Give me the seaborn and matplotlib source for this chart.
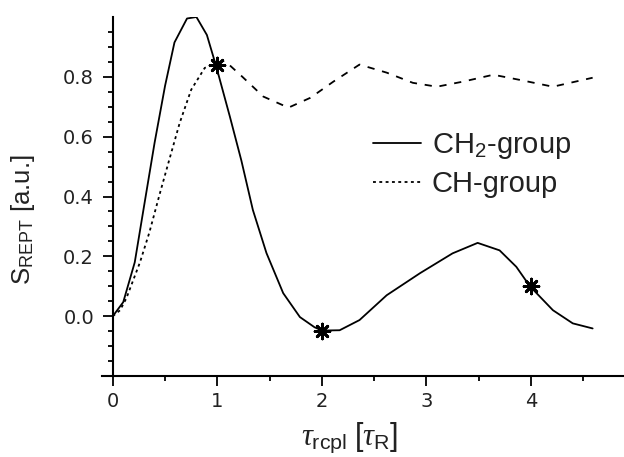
import matplotlib
matplotlib.use("Agg")
import matplotlib.pyplot as plt
import seaborn as sns
import pandas as pd
from matplotlib.ticker import FixedLocator

# ---- data ----
ch2_x = [0, 0.1, 0.21, 0.3, 0.4, 0.5, 0.59, 0.71, 0.80, 0.90, 0.99, 1.12, 1.23, 1.34, 1.47,
         1.63, 1.79, 1.93, 2.0, 2.17, 2.36, 2.62, 2.94, 3.25, 3.49, 3.70, 3.86, 3.99, 4.21,
         4.40, 4.59]
ch2_y = [0, 0.047, 0.18, 0.37, 0.58, 0.77, 0.915, 0.995, 1.0, 0.94, 0.834, 0.667, 0.52, 0.355,
         0.211, 0.077, -0.003, -0.037, -0.048, -0.047, -0.013, 0.07, 0.144, 0.21, 0.245, 0.22,
         0.165, 0.10, 0.02, -0.024, -0.041]

ch_x = [0, 0.07, 0.13, 0.26, 0.35, 0.45, 0.53, 0.64, 0.75, 0.88, 1.0, 1.07, 1.24, 1.44, 1.68,
        1.89, 2.11, 2.36, 2.62, 2.87, 3.10, 3.35, 3.64, 3.89, 4.21, 4.59]
ch_y = [0, 0.02, 0.06, 0.18, 0.28, 0.41, 0.51, 0.646, 0.757, 0.83, 0.845, 0.854, 0.80, 0.734,
        0.697, 0.73, 0.784, 0.841, 0.814, 0.78, 0.767, 0.784, 0.807, 0.79, 0.767, 0.797]

star_x = [1, 2, 4]
star_y = [0.84, -0.048, 0.10]

x_ticks = [0, 1, 2, 3, 4]
y_ticks = [0.0, 0.2, 0.4, 0.6, 0.8]
y_ticklabels = ["0.0", "0.2", "0.4", "0.6", "0.8"]

labels = ["CH$_2$-group", "CH-group"]

# ---- style ----
sns.set_theme(style="ticks")
plt.rcParams["font.family"] = ["Liberation Sans", "DejaVu Sans"]
plt.rcParams["mathtext.fontset"] = "custom"
plt.rcParams["mathtext.rm"] = "Liberation Sans"
plt.rcParams["mathtext.it"] = "Liberation Serif:italic"
plt.rcParams["mathtext.bf"] = "Liberation Sans:bold"

fig = plt.figure(figsize=(6.24, 4.57), dpi=100)
ax = fig.add_axes([0.164, 0.1772, 0.836, 0.7856])

df_ch2 = pd.DataFrame({"x": ch2_x, "y": ch2_y})
df_ch = pd.DataFrame({"x": ch_x, "y": ch_y})
split = 11  # dotted part up to x = 1.0, longer dashes afterwards

sns.lineplot(data=df_ch2, x="x", y="y", ax=ax, color="black", lw=1.3, sort=False,
             label=labels[0])
sns.lineplot(data=df_ch.iloc[:split], x="x", y="y", ax=ax, color="black", lw=1.3,
             sort=False, label=labels[1])
sns.lineplot(data=df_ch.iloc[split - 1:], x="x", y="y", ax=ax, color="black", lw=1.3,
             sort=False)
lines = ax.get_lines()
lines[1].set_dashes((1.6, 1.9))
lines[2].set_dashes((4.0, 4.3))

sns.scatterplot(x=star_x, y=star_y, ax=ax, marker=(8, 2, 0), s=115, color="black",
                linewidth=2.0, edgecolor="black", zorder=5)

ax.set_xlim(-0.1, 4.89)
ax.set_ylim(-0.2, 1.0)
sns.despine(ax=ax)
ax.spines["left"].set_position(("data", 0))
for s in ["left", "bottom"]:
    ax.spines[s].set_linewidth(1.5)
    ax.spines[s].set_color("black")

ax.xaxis.set_major_locator(FixedLocator(x_ticks))
ax.xaxis.set_minor_locator(FixedLocator([0.5, 1.5, 2.5, 3.5, 4.5]))
ax.set_xticklabels([str(t) for t in x_ticks])
ax.yaxis.set_major_locator(FixedLocator(y_ticks))
ax.set_yticklabels(y_ticklabels)
ax.yaxis.set_minor_locator(FixedLocator([-0.15, -0.1, -0.05, 0.05, 0.1, 0.15, 0.25, 0.3, 0.35,
                                         0.45, 0.5, 0.55, 0.65, 0.7, 0.75, 0.85, 0.9, 0.95]))
ax.tick_params(which="major", direction="out", length=7.5, width=1.3, color="black",
               labelsize=14, labelcolor="#222222")
ax.tick_params(axis="y", which="major", pad=6)
ax.tick_params(axis="x", which="major", pad=4)
ax.tick_params(which="minor", direction="out", length=3.5, width=1.3, color="black")
for lab in ax.get_xticklabels() + ax.get_yticklabels():
    lab.set_family("DejaVu Sans")

ax.set_xlabel(r"$\tau_{\mathrm{rcpl}}\ [\tau_{\mathrm{R}}]$", fontsize=22, color="#222222")
ax.set_ylabel(r"S$_{\mathrm{REPT}}$ [a.u.]", fontsize=18.5, color="#222222")
ax.xaxis.set_label_coords(0.475, -0.125)
ax.yaxis.set_label_coords(-0.126, 0.435)

leg = ax.legend(loc="upper left", bbox_to_anchor=(0.497, 0.714), frameon=False,
                fontsize=21, handlelength=1.65, handletextpad=0.35, labelspacing=0.29,
                borderaxespad=0)
for t in leg.get_texts():
    t.set_color("#222222")

fig.savefig("out.png", dpi=100)
